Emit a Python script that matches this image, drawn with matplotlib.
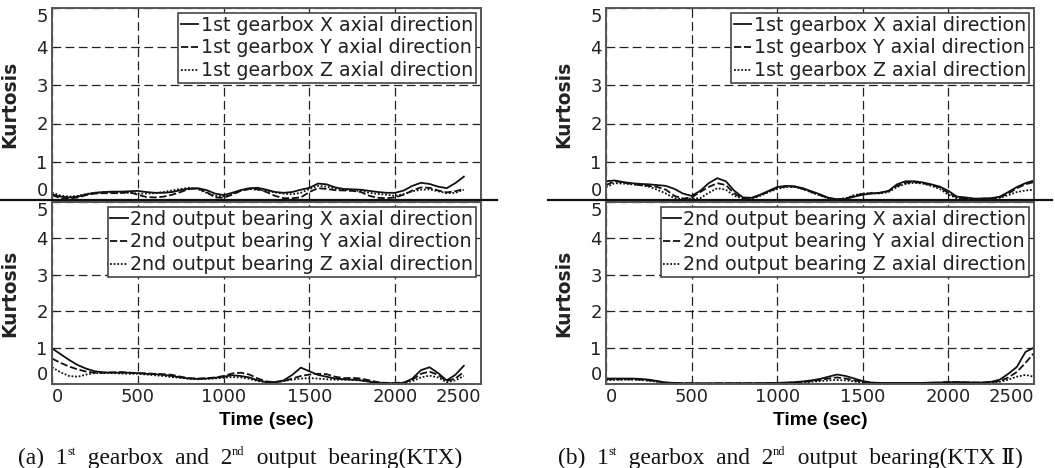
import matplotlib
matplotlib.use('Agg')
import matplotlib.pyplot as plt
from matplotlib.lines import Line2D

plt.rcParams['font.family'] = 'DejaVu Sans'

# sampling grid of the two test runs (sec)
time_ktx = list(range(0, 2401, 50))
time_ktx2 = list(range(0, 2501, 50))

ticks_x = [0, 500, 1000, 1500, 2000, 2500]
ticks_y = [0, 1, 2, 3, 4, 5]

gear_labels = ['1st gearbox X axial direction',
               '1st gearbox Y axial direction',
               '1st gearbox Z axial direction']
bear_labels = ['2nd output bearing X axial direction',
               '2nd output bearing Y axial direction',
               '2nd output bearing Z axial direction']

# (a) KTX - 1st gearbox
ktx_gear_x = [0.16, 0.10, 0.08, 0.10, 0.16, 0.20, 0.22, 0.23, 0.23, 0.24,
              0.25, 0.22, 0.20, 0.20, 0.22, 0.27, 0.31, 0.32, 0.27, 0.18,
              0.14, 0.20, 0.27, 0.32, 0.33, 0.28, 0.22, 0.20, 0.22, 0.28,
              0.33, 0.44, 0.42, 0.34, 0.30, 0.29, 0.28, 0.25, 0.22, 0.20,
              0.20, 0.26, 0.38, 0.46, 0.43, 0.36, 0.32, 0.45, 0.62]
ktx_gear_y = [0.14, 0.06, 0.05, 0.08, 0.14, 0.18, 0.19, 0.19, 0.19, 0.22,
              0.15, 0.09, 0.08, 0.10, 0.15, 0.22, 0.30, 0.31, 0.22, 0.08,
              0.07, 0.15, 0.25, 0.30, 0.29, 0.22, 0.12, 0.06, 0.06, 0.08,
              0.22, 0.32, 0.30, 0.27, 0.26, 0.25, 0.22, 0.12, 0.07, 0.06,
              0.08, 0.15, 0.26, 0.34, 0.33, 0.26, 0.21, 0.24, 0.30]
ktx_gear_z = [0.20, 0.13, 0.10, 0.12, 0.17, 0.20, 0.21, 0.22, 0.21, 0.20,
              0.18, 0.18, 0.19, 0.22, 0.26, 0.30, 0.33, 0.30, 0.20, 0.12,
              0.11, 0.18, 0.26, 0.30, 0.28, 0.25, 0.21, 0.18, 0.16, 0.20,
              0.30, 0.38, 0.36, 0.31, 0.28, 0.26, 0.25, 0.20, 0.17, 0.15,
              0.12, 0.17, 0.24, 0.28, 0.29, 0.24, 0.19, 0.20, 0.28]

# (a) KTX - 2nd output bearing
ktx_bear_x = [0.98, 0.82, 0.66, 0.52, 0.42, 0.35, 0.32, 0.31, 0.31, 0.31,
              0.30, 0.28, 0.27, 0.25, 0.22, 0.18, 0.15, 0.14, 0.15, 0.17,
              0.20, 0.24, 0.22, 0.18, 0.10, 0.05, 0.05, 0.10, 0.25, 0.45,
              0.35, 0.25, 0.20, 0.15, 0.13, 0.12, 0.10, 0.06, 0.03, 0.02,
              0.02, 0.03, 0.15, 0.38, 0.46, 0.30, 0.10, 0.25, 0.50]
ktx_bear_y = [0.70, 0.58, 0.48, 0.40, 0.34, 0.31, 0.31, 0.32, 0.33, 0.31,
              0.30, 0.29, 0.28, 0.27, 0.25, 0.20, 0.16, 0.15, 0.16, 0.18,
              0.22, 0.29, 0.31, 0.26, 0.15, 0.07, 0.05, 0.08, 0.15, 0.22,
              0.26, 0.28, 0.27, 0.20, 0.16, 0.17, 0.15, 0.10, 0.05, 0.03,
              0.03, 0.04, 0.12, 0.28, 0.34, 0.25, 0.08, 0.15, 0.33]
ktx_bear_z = [0.46, 0.32, 0.22, 0.20, 0.26, 0.30, 0.30, 0.30, 0.29, 0.28,
              0.28, 0.26, 0.24, 0.22, 0.19, 0.17, 0.14, 0.13, 0.14, 0.15,
              0.17, 0.19, 0.18, 0.14, 0.08, 0.05, 0.06, 0.08, 0.12, 0.15,
              0.16, 0.15, 0.13, 0.12, 0.12, 0.11, 0.10, 0.07, 0.04, 0.02,
              0.02, 0.03, 0.08, 0.18, 0.23, 0.18, 0.05, 0.10, 0.22]

# (b) KTX II - 1st gearbox
ktx2_gear_x = [0.50, 0.52, 0.48, 0.45, 0.43, 0.42, 0.40, 0.38, 0.30, 0.18,
               0.12, 0.25, 0.45, 0.58, 0.50, 0.25, 0.08, 0.07, 0.15, 0.25,
               0.35, 0.38, 0.37, 0.32, 0.24, 0.16, 0.07, 0.03, 0.04, 0.10,
               0.15, 0.18, 0.20, 0.25, 0.42, 0.50, 0.50, 0.47, 0.42, 0.36,
               0.25, 0.10, 0.08, 0.05, 0.05, 0.06, 0.10, 0.22, 0.35, 0.45,
               0.52]
ktx2_gear_y = [0.40, 0.50, 0.47, 0.43, 0.40, 0.38, 0.35, 0.28, 0.12, 0.05,
               0.08, 0.22, 0.35, 0.45, 0.40, 0.18, 0.05, 0.06, 0.14, 0.23,
               0.33, 0.36, 0.36, 0.30, 0.22, 0.14, 0.06, 0.03, 0.05, 0.12,
               0.17, 0.19, 0.20, 0.24, 0.38, 0.46, 0.48, 0.45, 0.40, 0.34,
               0.20, 0.08, 0.05, 0.04, 0.05, 0.05, 0.08, 0.18, 0.32, 0.42,
               0.48]
ktx2_gear_z = [0.35, 0.45, 0.44, 0.42, 0.40, 0.36, 0.28, 0.18, 0.06, 0.04,
               0.05, 0.06, 0.20, 0.32, 0.28, 0.12, 0.05, 0.05, 0.12, 0.22,
               0.30, 0.35, 0.35, 0.30, 0.21, 0.13, 0.05, 0.03, 0.06, 0.14,
               0.18, 0.19, 0.18, 0.22, 0.35, 0.43, 0.46, 0.44, 0.38, 0.30,
               0.15, 0.06, 0.05, 0.04, 0.04, 0.05, 0.07, 0.14, 0.22, 0.26,
               0.28]

# (b) KTX II - 2nd output bearing
ktx2_bear_x = [0.15, 0.15, 0.15, 0.15, 0.14, 0.12, 0.08, 0.04, 0.03, 0.02,
               0.02, 0.02, 0.02, 0.02, 0.02, 0.02, 0.02, 0.02, 0.02, 0.03,
               0.03, 0.04, 0.05, 0.07, 0.10, 0.14, 0.20, 0.26, 0.22, 0.15,
               0.08, 0.04, 0.03, 0.03, 0.03, 0.03, 0.03, 0.03, 0.04, 0.04,
               0.05, 0.05, 0.05, 0.04, 0.04, 0.06, 0.12, 0.28, 0.47, 0.88,
               1.00]
ktx2_bear_y = [0.13, 0.13, 0.13, 0.13, 0.12, 0.10, 0.07, 0.04, 0.02, 0.02,
               0.02, 0.01, 0.01, 0.02, 0.02, 0.02, 0.02, 0.02, 0.02, 0.02,
               0.03, 0.03, 0.04, 0.05, 0.08, 0.11, 0.15, 0.18, 0.15, 0.10,
               0.06, 0.03, 0.02, 0.02, 0.02, 0.02, 0.03, 0.03, 0.03, 0.04,
               0.06, 0.05, 0.04, 0.04, 0.04, 0.05, 0.08, 0.18, 0.33, 0.58,
               0.85]
ktx2_bear_z = [0.11, 0.11, 0.12, 0.12, 0.11, 0.09, 0.06, 0.03, 0.02, 0.01,
               0.01, 0.01, 0.01, 0.01, 0.01, 0.02, 0.02, 0.02, 0.02, 0.02,
               0.02, 0.02, 0.03, 0.04, 0.06, 0.08, 0.10, 0.11, 0.10, 0.07,
               0.04, 0.03, 0.02, 0.02, 0.02, 0.02, 0.02, 0.02, 0.03, 0.03,
               0.04, 0.04, 0.03, 0.03, 0.03, 0.04, 0.06, 0.12, 0.20, 0.25,
               0.20]

W, H = 1055, 468
fig = plt.figure(figsize=(W / 100, H / 100), dpi=100)

styles = ['-', (0, (4, 1.5)), (0, (1, 1))]
SERIF = ['Liberation Serif', 'DejaVu Serif']


def panel(rect, t, series, labels, bottom):
    ax = fig.add_axes(rect)
    for y, ls, lab in zip(series, styles, labels):
        ax.plot(t, y, color='#111111', lw=1.3, ls=ls, label=lab)
    ax.set_xlim(0, 2500)
    ax.set_ylim(0, 5)
    ax.set_xticks(ticks_x)
    ax.set_yticks(ticks_y)
    ax.grid(True, color='#222222', lw=0.9, ls=(0, (7, 3.5)))
    for sp in ax.spines.values():
        sp.set_color('#555555')
        sp.set_linewidth(1.4)
    ax.tick_params(direction='in', length=3, labelsize=13, pad=3,
                   colors='#222222', labelbottom=bottom)
    yl = ax.get_yticklabels()
    yl[0].set_va('bottom')
    yl[-1].set_va('top')
    if bottom:
        xl = ax.get_xticklabels()
        xl[0].set_ha('left')
        xl[-1].set_ha('right')
        ax.set_xlabel('Time (sec)', family='Liberation Sans', fontweight='bold',
                      fontsize=13.8)
        ax.xaxis.set_label_coords(0.5, -0.2)
        ax.xaxis.label.set_va('center')
    ax.text(-0.098, 0.5, 'Kurtosis', transform=ax.transAxes, rotation=90,
            ha='center', va='center', fontsize=13.5, fontweight='bold',
            color='#222222')
    leg = ax.legend(loc='upper right', fontsize=13.7, fancybox=False,
                    framealpha=1, edgecolor='#444444', borderaxespad=0.25,
                    borderpad=0.15, labelspacing=0.2, handlelength=0.9,
                    handletextpad=0.15)
    leg.get_frame().set_linewidth(1.2)
    for txt in leg.get_texts():
        txt.set_color('#222222')
    return ax


left_x, left_w = 52 / W, 429 / W
right_x, right_w = 606 / W, 428 / W
top_y, top_h = (H - 200.5) / H, 192.5 / H
bot_y, bot_h = (H - 384) / H, 182 / H

panel([left_x, top_y, left_w, top_h], time_ktx,
      [ktx_gear_x, ktx_gear_y, ktx_gear_z], gear_labels, False)
panel([left_x, bot_y, left_w, bot_h], time_ktx,
      [ktx_bear_x, ktx_bear_y, ktx_bear_z], bear_labels, True)
panel([right_x, top_y, right_w, top_h], time_ktx2,
      [ktx2_gear_x, ktx2_gear_y, ktx2_gear_z], gear_labels, False)
panel([right_x, bot_y, right_w, bot_h], time_ktx2,
      [ktx2_bear_x, ktx2_bear_y, ktx2_bear_z], bear_labels, True)

# separator lines between the upper and lower panels
for x0, x1 in [(0, 497), (548, 1052)]:
    fig.add_artist(Line2D([x0 / W, x1 / W], [1 - 200 / H] * 2, color='#111111',
                          lw=1.6, transform=fig.transFigure))

# captions with superscripts, placed piece by piece
renderer = fig.canvas.get_renderer()


def caption(xc, parts):
    texts = []
    for s, sup in parts:
        texts.append(fig.text(0, 0, s, fontsize=9 if sup else 16.8,
                              family=SERIF, va='baseline', color='#111111'))
    widths = [t.get_window_extent(renderer).width for t in texts]
    x = xc - sum(widths) / 2
    for t, (s, sup), w in zip(texts, parts, widths):
        t.set_position((x / W, (4 + (9 if sup else 0)) / H))
        x += w


caption(240, [('(a)  1', False), ('st', True), ('  gearbox  and  2', False),
              ('nd', True), ('  output  bearing(KTX)', False)])
caption(790, [('(b)  1', False), ('st', True), ('  gearbox  and  2', False),
              ('nd', True), ('  output  bearing(KTX \u2161)', False)])

fig.savefig('out.png', dpi=100, facecolor='white')
